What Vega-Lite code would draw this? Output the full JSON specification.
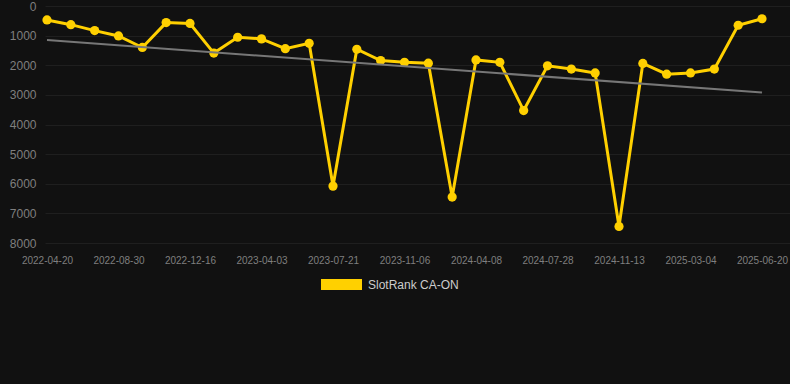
{
  "$schema": "https://vega.github.io/schema/vega-lite/v6.json",
  "width": 745,
  "height": 237,
  "autosize": {"type": "none"},
  "padding": {"left": 45, "top": 6, "right": 0, "bottom": 141},
  "background": "#111111",
  "config": {
    "view": {"stroke": null},
    "font": "Liberation Sans",
    "axis": {"gridColor": "#1f1f1f", "gridWidth": 1, "domain": false, "ticks": false, "labelColor": "#7f7f7f"}
  },
  "datasets": {
    "rank": [
      {"date": "2022-04-20", "rank": 470, "series": "SlotRank CA-ON"},
      {"date": "2022-06-03", "rank": 630, "series": "SlotRank CA-ON"},
      {"date": "2022-07-17", "rank": 830, "series": "SlotRank CA-ON"},
      {"date": "2022-08-30", "rank": 1010, "series": "SlotRank CA-ON"},
      {"date": "2022-10-05", "rank": 1400, "series": "SlotRank CA-ON"},
      {"date": "2022-11-10", "rank": 560, "series": "SlotRank CA-ON"},
      {"date": "2022-12-16", "rank": 590, "series": "SlotRank CA-ON"},
      {"date": "2023-01-21", "rank": 1590, "series": "SlotRank CA-ON"},
      {"date": "2023-02-26", "rank": 1055, "series": "SlotRank CA-ON"},
      {"date": "2023-04-03", "rank": 1110, "series": "SlotRank CA-ON"},
      {"date": "2023-05-09", "rank": 1440, "series": "SlotRank CA-ON"},
      {"date": "2023-06-14", "rank": 1260, "series": "SlotRank CA-ON"},
      {"date": "2023-07-21", "rank": 6080, "series": "SlotRank CA-ON"},
      {"date": "2023-08-26", "rank": 1460, "series": "SlotRank CA-ON"},
      {"date": "2023-10-01", "rank": 1840, "series": "SlotRank CA-ON"},
      {"date": "2023-11-06", "rank": 1900, "series": "SlotRank CA-ON"},
      {"date": "2023-12-28", "rank": 1930, "series": "SlotRank CA-ON"},
      {"date": "2024-02-17", "rank": 6450, "series": "SlotRank CA-ON"},
      {"date": "2024-04-08", "rank": 1820, "series": "SlotRank CA-ON"},
      {"date": "2024-05-15", "rank": 1900, "series": "SlotRank CA-ON"},
      {"date": "2024-06-21", "rank": 3530, "series": "SlotRank CA-ON"},
      {"date": "2024-07-28", "rank": 2020, "series": "SlotRank CA-ON"},
      {"date": "2024-09-02", "rank": 2130, "series": "SlotRank CA-ON"},
      {"date": "2024-10-08", "rank": 2260, "series": "SlotRank CA-ON"},
      {"date": "2024-11-13", "rank": 7440, "series": "SlotRank CA-ON"},
      {"date": "2024-12-20", "rank": 1940, "series": "SlotRank CA-ON"},
      {"date": "2025-01-26", "rank": 2300, "series": "SlotRank CA-ON"},
      {"date": "2025-03-04", "rank": 2260, "series": "SlotRank CA-ON"},
      {"date": "2025-04-09", "rank": 2130, "series": "SlotRank CA-ON"},
      {"date": "2025-05-15", "rank": 650, "series": "SlotRank CA-ON"},
      {"date": "2025-06-20", "rank": 430, "series": "SlotRank CA-ON"}
    ],
    "trend": [
      {"date": "2022-04-20", "trend": 1150},
      {"date": "2025-06-20", "trend": 2920}
    ]
  },
  "encoding": {
    "x": {
      "field": "date",
      "type": "ordinal",
      "sort": null,
      "scale": {"type": "point", "padding": 0.6294, "align": 0.0667},
      "axis": {
        "title": null,
        "labelAngle": 0,
        "labelFontSize": 10,
        "labelPadding": 12,
        "values": ["2022-04-20", "2022-08-30", "2022-12-16", "2023-04-03", "2023-07-21", "2023-11-06", "2024-04-08", "2024-07-28", "2024-11-13", "2025-03-04", "2025-06-20"]
      }
    }
  },
  "layer": [
    {
      "data": {"name": "rank"},
      "mark": {"type": "line", "strokeWidth": 3, "point": {"size": 85, "filled": true, "opacity": 1}},
      "encoding": {
        "y": {
          "field": "rank",
          "type": "quantitative",
          "scale": {"domain": [0, 8000], "reverse": true, "nice": false},
          "axis": {"title": null, "values": [0, 1000, 2000, 3000, 4000, 5000, 6000, 7000, 8000], "format": "d", "labelFontSize": 12, "labelPadding": 9, "labelOverlap": false}
        },
        "color": {
          "field": "series",
          "type": "nominal",
          "scale": {"range": ["#FFD000"]},
          "legend": {
            "title": null,
            "orient": "none",
            "legendX": 276,
            "legendY": 258,
            "symbolType": "M-1,-0.27L1,-0.27L1,0.27L-1,0.27Z",
            "symbolSize": 1681,
            "symbolFillColor": "#FFD000",
            "symbolStrokeWidth": 0,
            "labelColor": "#cccccc",
            "labelFontSize": 12,
            "labelOffset": 6
          }
        }
      }
    },
    {
      "data": {"name": "trend"},
      "mark": {"type": "line", "color": "#777777", "strokeWidth": 2},
      "encoding": {
        "y": {
          "field": "trend",
          "type": "quantitative",
          "axis": {"title": null, "values": [0, 1000, 2000, 3000, 4000, 5000, 6000, 7000, 8000], "format": "d", "labelFontSize": 12, "labelPadding": 9, "labelOverlap": false}
        }
      }
    }
  ]
}
